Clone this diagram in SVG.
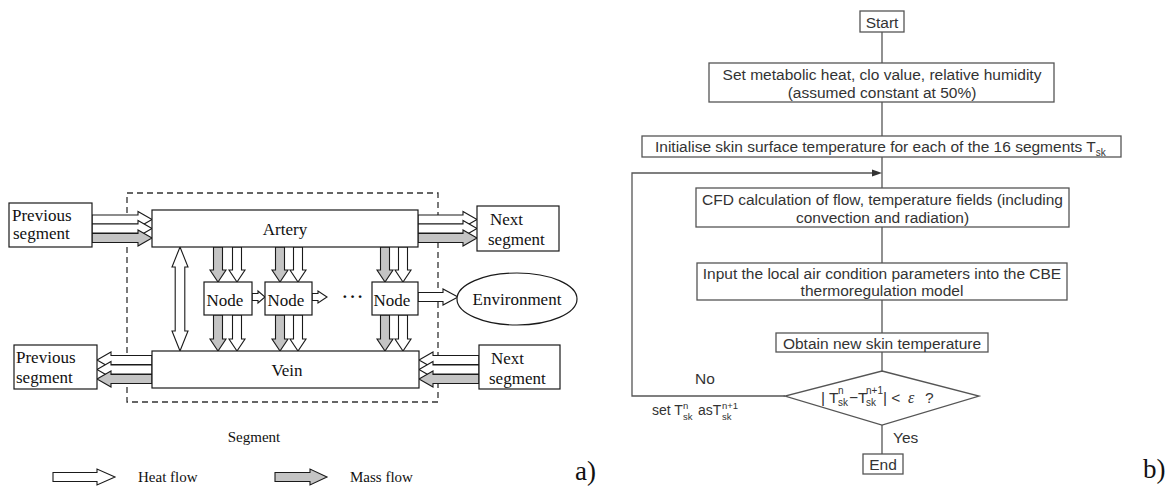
<svg xmlns="http://www.w3.org/2000/svg" width="1175" height="489" viewBox="0 0 1175 489">
<style>
.bx{fill:#fff;stroke:#1a1a1a;stroke-width:1.2}
.heat{fill:#fff;stroke:#1a1a1a;stroke-width:1.1;stroke-linejoin:miter}
.mass{fill:#c4c4c4;stroke:#1a1a1a;stroke-width:1.1;stroke-linejoin:miter}
.tl{font-family:"Liberation Serif","Times New Roman",serif;font-size:17px;fill:#111}
.tls{font-family:"Liberation Serif","Times New Roman",serif;font-size:15px;fill:#111}
.fb{fill:#fff;stroke:#555;stroke-width:1.3}
.fl{fill:none;stroke:#555;stroke-width:1.3}
.tr{font-family:"Liberation Sans",Arial,sans-serif;font-size:15.5px;fill:#333}
.trs{font-family:"Liberation Sans",Arial,sans-serif;font-size:14px;fill:#333}
.sm{font-size:10px}
.xs{font-size:9.5px}
.mid{text-anchor:middle}
</style>
<rect width="1175" height="489" fill="#fff"/>

<!-- ===== a) ===== -->
<g id="segment-box">
<rect x="127" y="193" width="311" height="209" fill="none" stroke="#333" stroke-width="1.3" stroke-dasharray="6,4"/>
<text class="tls mid" x="254" y="442">Segment</text>
</g>

<g id="connectors-a">
<polygon class="heat" points="92,215 138,215 138,211.5 152,219.5 138,227.5 138,224 92,224"/>
<polygon class="heat" points="92,224 138,224 138,220.5 152,228.5 138,236.5 138,233 92,233"/>
<polygon class="mass" points="92,233.5 138,233.5 138,230 152,238 138,246 138,242.5 92,242.5"/>
<polygon class="heat" points="418,215 463,215 463,211.5 477,219.5 463,227.5 463,224 418,224"/>
<polygon class="heat" points="418,224 463,224 463,220.5 477,228.5 463,236.5 463,233 418,233"/>
<polygon class="mass" points="418,233.5 463,233.5 463,230 477,238 463,246 463,242.5 418,242.5"/>
<polygon class="heat" points="152,355.5 111,355.5 111,352 97,360 111,368 111,364.5 152,364.5"/>
<polygon class="heat" points="152,365 111,365 111,361.5 97,369.5 111,377.5 111,374 152,374"/>
<polygon class="mass" points="152,374.5 111,374.5 111,371 97,379 111,387 111,383.5 152,383.5"/>
<polygon class="heat" points="479,355.5 433,355.5 433,352 419,360 433,368 433,364.5 479,364.5"/>
<polygon class="heat" points="479,365 433,365 433,361.5 419,369.5 433,377.5 433,374 479,374"/>
<polygon class="mass" points="479,374.5 433,374.5 433,371 419,379 433,387 433,383.5 479,383.5"/>
<polygon class="heat" points="180,247 188,267 184.8,267 184.8,331 188,331 180,351 172,331 175.2,331 175.2,267 172,267"/>
<polygon class="mass" points="213.5,247 222.5,247 222.5,270 226,270 218,282 210,270 213.5,270"/>
<polygon class="heat" points="232.5,247 241.5,247 241.5,270 245,270 237,282 229,270 232.5,270"/>
<polygon class="mass" points="275.5,247 284.5,247 284.5,270 288,270 280,282 272,270 275.5,270"/>
<polygon class="heat" points="293.5,247 302.5,247 302.5,270 306,270 298,282 290,270 293.5,270"/>
<polygon class="mass" points="380.5,247 389.5,247 389.5,270 393,270 385,282 377,270 380.5,270"/>
<polygon class="heat" points="398.5,247 407.5,247 407.5,270 411,270 403,282 395,270 398.5,270"/>
<polygon class="mass" points="213.5,315 222.5,315 222.5,339 226,339 218,351 210,339 213.5,339"/>
<polygon class="heat" points="232.5,315 241.5,315 241.5,339 245,339 237,351 229,339 232.5,339"/>
<polygon class="mass" points="275.5,315 284.5,315 284.5,339 288,339 280,351 272,339 275.5,339"/>
<polygon class="heat" points="293.5,315 302.5,315 302.5,339 306,339 298,351 290,339 293.5,339"/>
<polygon class="mass" points="380.5,315 389.5,315 389.5,339 393,339 385,351 377,339 380.5,339"/>
<polygon class="heat" points="398.5,315 407.5,315 407.5,339 411,339 403,351 395,339 398.5,339"/>
<polygon class="heat" points="252,293.5 258,293.5 258,291 265,297 258,303 258,300.5 252,300.5"/>
<polygon class="heat" points="312,293.5 318,293.5 318,291 327,297 318,303 318,300.5 312,300.5"/>
<polygon class="heat" points="418,292.5 443,292.5 443,289 458,297 443,305 443,301.5 418,301.5"/>
</g>

<g id="prev-top"><rect class="bx" x="9" y="203" width="83" height="44"/>
<text class="tl" x="12" y="221">Previous</text><text class="tl" x="13" y="239">segment</text></g>
<g id="artery"><rect class="bx" x="152" y="210" width="266" height="37"/>
<text class="tl mid" x="285" y="235">Artery</text></g>
<g id="next-top"><rect class="bx" x="477" y="206" width="82" height="45"/>
<text class="tl" x="490" y="225">Next</text><text class="tl" x="488" y="245">segment</text></g>
<g id="node1"><rect class="bx" x="204" y="282" width="48" height="33"/>
<text class="tl" x="206.5" y="306">Node</text></g>
<g id="node2"><rect class="bx" x="265" y="282" width="47" height="33"/>
<text class="tl" x="267.5" y="306">Node</text></g>
<g id="dots"><text class="tl" x="342" y="302" font-weight="bold" letter-spacing="2">···</text></g>
<g id="node3"><rect class="bx" x="372" y="282" width="46" height="33"/>
<text class="tl" x="373.5" y="306">Node</text></g>
<g id="environment"><ellipse class="bx" cx="517" cy="299" rx="60" ry="26"/>
<text class="tl mid" x="517" y="305">Environment</text></g>
<g id="vein"><rect class="bx" x="152" y="351" width="267" height="37"/>
<text class="tl mid" x="287" y="376">Vein</text></g>
<g id="prev-bottom"><rect class="bx" x="14" y="345" width="83" height="44"/>
<text class="tl" x="16" y="363">Previous</text><text class="tl" x="16" y="383">segment</text></g>
<g id="next-bottom"><rect class="bx" x="479" y="345" width="81" height="44"/>
<text class="tl" x="491" y="364">Next</text><text class="tl" x="489" y="384">segment</text></g>

<g id="legend">
<polygon class="heat" points="53,472.5 97,472.5 97,469 115,477 97,485 97,481.5 53,481.5"/>
<text class="tls" x="138" y="482">Heat flow</text>
<polygon class="mass" points="275,472.5 310,472.5 310,469 327,477 310,485 310,481.5 275,481.5"/>
<text class="tls" x="350" y="482">Mass flow</text>
<text font-family="Liberation Serif,Times New Roman,serif" font-size="27" fill="#111" x="575" y="480">a)</text>
</g>

<!-- ===== b) ===== -->
<g id="connectors-b">
<line class="fl" x1="882" y1="32" x2="882" y2="63"/>
<line class="fl" x1="882" y1="102" x2="882" y2="136"/>
<line class="fl" x1="882" y1="157" x2="882" y2="188"/>
<line class="fl" x1="882" y1="227" x2="882" y2="263"/>
<line class="fl" x1="882" y1="300" x2="882" y2="333"/>
<line class="fl" x1="882" y1="352" x2="882" y2="371"/>
<line class="fl" x1="882" y1="425" x2="882" y2="454"/>
<polyline class="fl" points="785,396 632,396 632,173 874,173"/>
<polygon fill="#333" points="872,169.5 882,173 872,176.5"/>
<text class="tr" x="695" y="384">No</text>
<text class="trs" x="652" y="415">set T</text>
<text class="trs xs" x="683" y="409">n</text>
<text class="trs xs" x="683" y="419.5">sk</text>
<text class="trs" x="698" y="415">asT</text>
<text class="trs xs" x="722" y="409">n+1</text>
<text class="trs xs" x="722" y="419.5">sk</text>
<text class="tr" x="893" y="443">Yes</text>
</g>

<g id="start"><rect class="fb" x="860" y="11" width="44" height="21"/>
<text class="tr mid" x="882" y="27.5">Start</text></g>
<g id="set-params"><rect class="fb" x="709" y="63" width="345" height="39"/>
<text class="tr mid" x="882" y="79.5">Set metabolic heat, clo value, relative humidity</text>
<text class="tr mid" x="882" y="97.5">(assumed constant at 50%)</text></g>
<g id="init-skin"><rect class="fb" x="642" y="136" width="479" height="21"/>
<text class="tr" x="655" y="152">Initialise skin surface temperature for each of the 16 segments T<tspan class="sm" dy="4">sk</tspan></text></g>
<g id="cfd"><rect class="fb" x="696" y="188" width="373" height="39"/>
<text class="tr mid" x="882.5" y="204.5">CFD calculation of flow, temperature fields (including</text>
<text class="tr mid" x="882.5" y="222.5">convection and radiation)</text></g>
<g id="input-cbe"><rect class="fb" x="697" y="263" width="370" height="37"/>
<text class="tr mid" x="882" y="278.5">Input the local air condition parameters into the CBE</text>
<text class="tr mid" x="882" y="296">thermoregulation model</text></g>
<g id="obtain"><rect class="fb" x="776" y="333" width="212" height="19"/>
<text class="tr mid" x="882" y="348.5">Obtain new skin temperature</text></g>
<g id="decision"><polygon class="fb" points="882,371 979,396 882,425 785,396"/>
<text class="tr" x="821" y="403">| T</text>
<text class="tr sm" x="838" y="394">n</text>
<text class="tr sm" x="838" y="406">sk</text>
<text class="tr" x="849" y="403">−T</text>
<text class="tr sm" x="866" y="394">n+1</text>
<text class="tr sm" x="866" y="406">sk</text>
<text class="tr" x="883" y="403">| &lt;</text>
<text font-family="Liberation Serif,Times New Roman,serif" font-style="italic" font-size="16" fill="#333" x="908" y="403">ε</text>
<text class="tr" x="925" y="403">?</text></g>
<g id="end"><rect class="fb" x="863" y="454" width="40" height="20"/>
<text class="tr mid" x="883" y="469.5">End</text></g>
<text font-family="Liberation Serif,Times New Roman,serif" font-size="27" fill="#111" x="1143" y="478">b)</text>
</svg>
